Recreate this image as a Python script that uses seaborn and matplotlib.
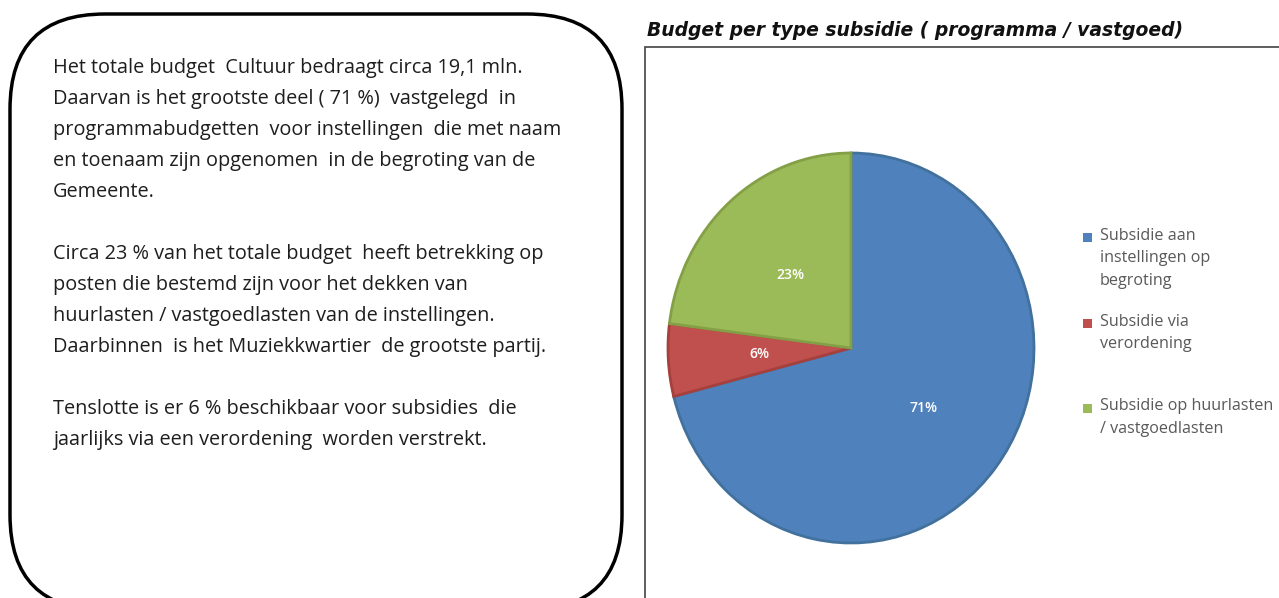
import matplotlib.pyplot as plt
import seaborn as sns
from matplotlib.patches import FancyBboxPatch, Rectangle

# data
categories = [
    "Subsidie aan\ninstellingen op\nbegroting",
    "Subsidie via\nverordening",
    "Subsidie op huurlasten\n/ vastgoedlasten",
]
shares = [71, 6, 23]
colors = ["#4F81BD", "#C0504D", "#9BBB59"]
edge_colors = ["#41719C", "#A5403D", "#84A046"]
chart_title = "Budget per type subsidie ( programma / vastgoed)"
paragraphs = [
    ["Het totale budget  Cultuur bedraagt circa 19,1 mln.",
     "Daarvan is het grootste deel ( 71 %)  vastgelegd  in",
     "programmabudgetten  voor instellingen  die met naam",
     "en toenaam zijn opgenomen  in de begroting van de",
     "Gemeente."],
    ["Circa 23 % van het totale budget  heeft betrekking op",
     "posten die bestemd zijn voor het dekken van",
     "huurlasten / vastgoedlasten van de instellingen.",
     "Daarbinnen  is het Muziekkwartier  de grootste partij."],
    ["Tenslotte is er 6 % beschikbaar voor subsidies  die",
     "jaarlijks via een verordening  worden verstrekt."],
]

sns.set_style("white")
plt.rcParams["font.family"] = ["Open Sans", "DejaVu Sans"]

W, H = 1279, 598
fig = plt.figure(figsize=(W / 100, H / 100), dpi=100)

# background canvas in pixel units
bg = fig.add_axes([0, 0, 1, 1])
bg.set_xlim(0, W)
bg.set_ylim(H, 0)
bg.axis("off")

# rounded text box on the left (runs slightly past the bottom edge)
box = FancyBboxPatch((10, 14), 612, 596,
                     boxstyle="round,pad=0,rounding_size=95",
                     fc="white", ec="black", lw=2.5)
bg.add_patch(box)

y = 68
for para in paragraphs:
    for line in para:
        bg.text(53, y, line, fontsize=14.3, color="#1e1e1e", va="center", ha="left")
        y += 31
    y += 31

# chart frame + title
bg.add_patch(Rectangle((645, 47), W - 645 + 5, H - 47 + 5, fc="white", ec="#505050", lw=1.3))
bg.text(647, 30, chart_title, fontsize=13.5, fontweight="bold", fontstyle="italic",
        family=["DejaVu Sans"], color="#111111", va="center", ha="left")

# pie (image is slightly stretched vertically, so no equal aspect)
cx, cy, rx, ry = 851, 348, 183, 195
ax = fig.add_axes([(cx - rx) / W, (H - cy - ry) / H, 2 * rx / W, 2 * ry / H])
wedges, texts, autotexts = ax.pie(
    shares, colors=colors, startangle=90, counterclock=False,
    autopct="%d%%", pctdistance=0.5,
    wedgeprops={"linewidth": 2.0},
    textprops={"color": "white", "fontsize": 10, "fontweight": "semibold"},
)
for w, ec in zip(wedges, edge_colors):
    w.set_edgecolor(ec)
ax.set_aspect("auto")
ax.set_xlim(-1, 1)
ax.set_ylim(-1, 1)
ax.axis("off")

# legend, marker aligned with first line of each entry
legend_rows = [237, 323, 408]
for lab, col, ly in zip(categories, colors, legend_rows):
    bg.add_patch(Rectangle((1083, ly - 4.5), 9, 9, fc=col, ec="none"))
    bg.text(1100, ly - 9.5, lab, fontsize=11.6, color="#595959", va="top", ha="left",
            linespacing=1.55)

fig.savefig("out.png", dpi=100)
